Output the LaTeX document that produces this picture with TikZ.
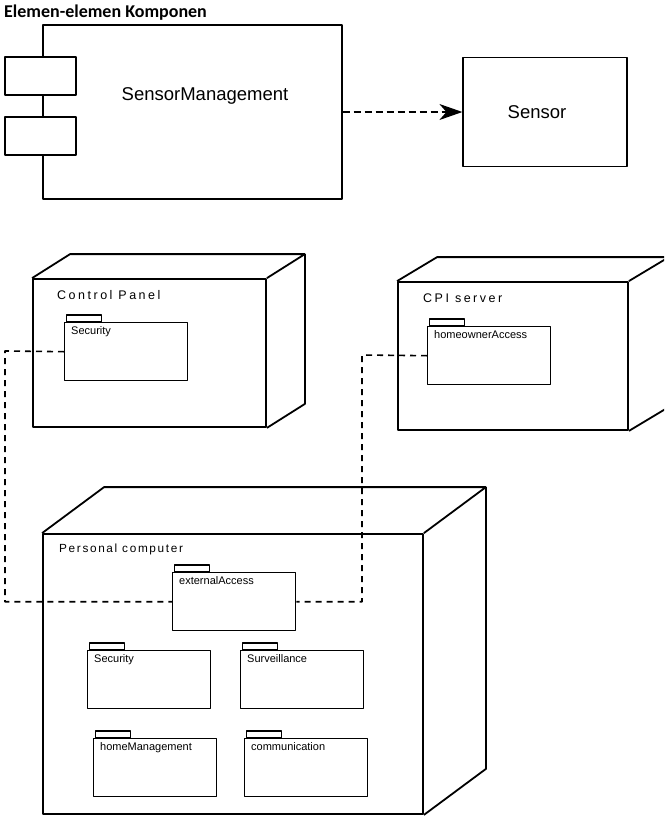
\documentclass[tikz,border=0pt]{standalone}
\usepackage{fontspec}
\setmainfont{Liberation Sans}
\newfontfamily\headfont{Carlito}
\newfontfamily\boxfont[LetterSpace=20]{Liberation Sans}
\newfontfamily\boxfontb[LetterSpace=14]{Liberation Sans}
\usetikzlibrary{arrows.meta}

\begin{document}
\begin{tikzpicture}[x=1pt, y=-1pt, line join=round,
    compbox/.style={draw, line width=1.2pt, fill=white, inner sep=0pt},
    bigtext/.style={font=\fontsize{18.5}{22}\selectfont},
    nodebox/.style={draw, line width=1.8pt, inner sep=0pt},
    nodetitle/.style={inner sep=0pt, anchor=base west},
    pkg/.style={draw, line width=1.4pt, fill=white, inner sep=0pt, anchor=north west,
        minimum width=123pt, minimum height=58pt},
    pkgname/.style={font=\fontsize{11}{13}\selectfont, inner sep=0pt, anchor=base west,
        xshift=7pt, yshift=-12pt},
    pkgtab/.style={draw, line width=1.4pt, fill=white},
    link/.style={line width=1.6pt, dash pattern=on 6pt off 5pt},
    dep/.style={line width=1.5pt, dash pattern=on 7pt off 4pt,
        -{Stealth[length=23pt, width=16pt, inset=7pt]}}]
        \useasboundingbox (0,0) rectangle (664,827);
        \clip (0,0) rectangle (664,827);

        \node[anchor=base west, inner sep=0pt, font=\headfont\bfseries\fontsize{18}{20}\selectfont] (title) at (4,17) {Elemen-elemen Komponen};

        % component
        \node[compbox, minimum width=299pt, minimum height=174pt,
            label={[bigtext, xshift=12.5pt, yshift=16pt]center:SensorManagement}] (comp) at (192.5,112) {};
        \node[compbox, minimum width=71pt, minimum height=38pt] (portA) at (40.5,76) {};
        \node[compbox, minimum width=71pt, minimum height=38pt] (portB) at (40.5,136) {};
        \node[compbox, minimum width=164pt, minimum height=109pt,
            label={[bigtext, xshift=-8pt]center:Sensor}] (sensor) at (545,112) {};
        \draw[dep] (comp.east) -- (sensor.west);

        % nodes
        \node[nodebox, minimum width=233pt, minimum height=148pt] (cp) at (149.5,353) {};
        \node[nodetitle, font=\boxfont\fontsize{12.5}{15}\selectfont] (cpName) at (57,299) {Control Panel};
        \node[nodebox, minimum width=230pt, minimum height=148pt] (cpi) at (513,356) {};
        \node[nodetitle, font=\boxfont\fontsize{12.5}{15}\selectfont] (cpiName) at (423,302) {CPI server};
        \node[nodebox, minimum width=380pt, minimum height=280pt] (pc) at (233,674) {};
        \node[nodetitle, font=\boxfontb\fontsize{11.8}{14}\selectfont] (pcName) at (59,552) {Personal computer};
        \foreach \n/\dx/\dy in {cp/38/24, cpi/40/24, pc/62/46}
            \draw[line width=1.8pt] (\n.north west) -- ++(\dx,-\dy) -| ([shift={(\dx,-\dy)}]\n.south east)
                -- (\n.south east) (\n.north east) -- ++(\dx,-\dy);

        % packages
        \node[pkg, label={[pkgname]north west:Security}] (cpSec) at (64,322) {};
        \node[pkg, label={[pkgname]north west:homeownerAccess}] (cpiHome) at (427,326) {};
        \node[pkg, label={[pkgname]north west:externalAccess}] (pcExt) at (172,572) {};
        \node[pkg, label={[pkgname]north west:Security}] (pcSec) at (87,650) {};
        \node[pkg, label={[pkgname]north west:Surveillance}] (pcSurv) at (240,650) {};
        \node[pkg, label={[pkgname]north west:homeManagement}] (pcHome) at (93,738) {};
        \node[pkg, label={[pkgname]north west:communication}] (pcComm) at (244,738) {};
        \foreach \p in {cpSec, cpiHome, pcExt, pcSec, pcSurv, pcHome, pcComm}
            \draw[pkgtab] ([xshift=2.5pt]\p.north west) rectangle ++(35,-7);

        % links
        \coordinate (bendL) at (5,351);
        \coordinate (bendR) at (362,355);
        \draw[link] (cpSec.west) -- (bendL) |- (pcExt.west);
        \draw[link] (cpiHome.west) -- (bendR) |- (pcExt.east);
\end{tikzpicture}
\end{document}
